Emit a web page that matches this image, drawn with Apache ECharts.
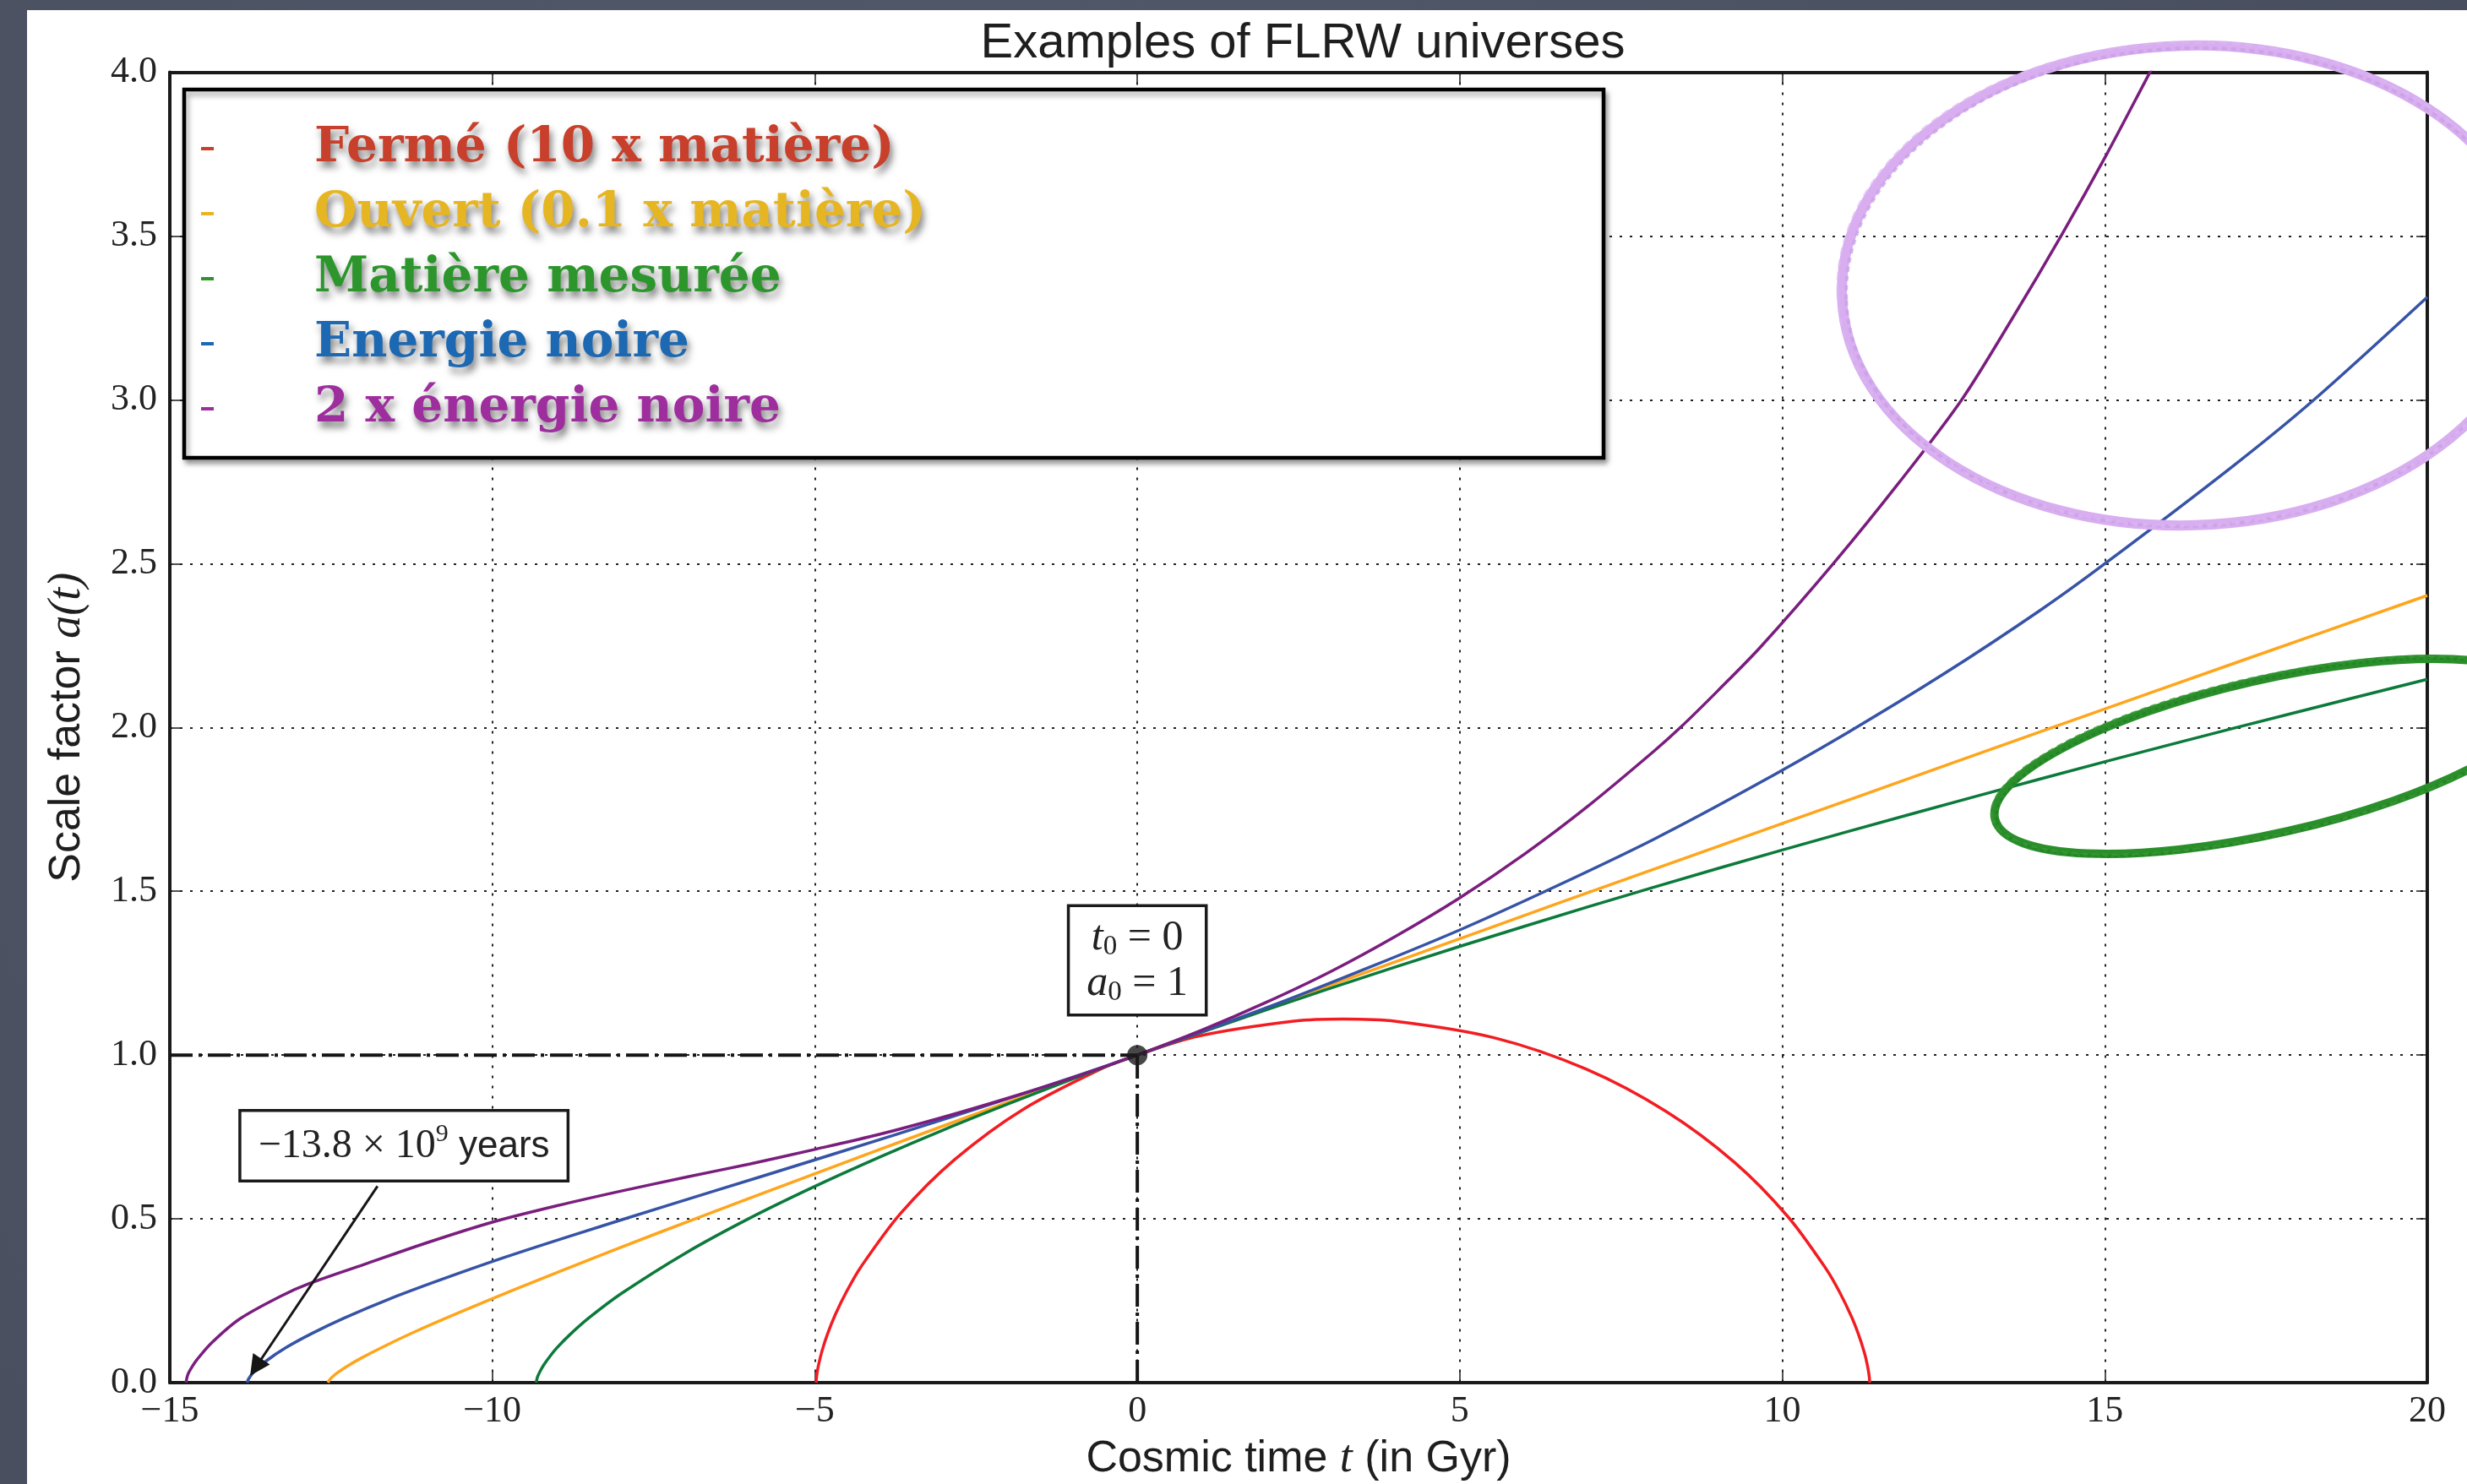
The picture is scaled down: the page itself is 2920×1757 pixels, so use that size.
<!DOCTYPE html>
<html><head><meta charset="utf-8">
<script src="https://cdn.jsdelivr.net/npm/echarts/dist/echarts.min.js"></script>
<style>
html,body{margin:0;padding:0;width:2920px;height:1757px;overflow:hidden;background:radial-gradient(circle at 40% 30%,#535a6b,#464c5b);}
#panel{position:absolute;left:32px;top:12px;width:2888px;height:1745px;background:#fff;}
#chart{width:2888px;height:1745px;}
</style></head><body><div id="panel"><div id="chart"></div></div>
<script>
// ---------- axes ----------
const X_MIN = -15, X_MAX = 20, X_STEP = 5;
const Y_MIN = 0, Y_MAX = 4, Y_STEP = 0.5;

// ---------- series names / colours ----------
const seriesNames = ['Fermé (10 x matière)', 'Ouvert (0.1 x matière)', 'Matière mesurée', 'Energie noire', '2 x énergie noire'];
const lineColors = ['#f21d22', '#ffa51c', '#0b7a3b', '#3653a6', '#7a1e7e'];
const legendColors = ['#c83f2b', '#e6b522', '#2c962c', '#1c68b2', '#9e2d9e'];

// ---------- data (cosmic time t in Gyr, scale factor a) ----------
const closedT = [-4.980,-4.968,-4.941,-4.888,-4.802,-4.677,-4.505,-4.283,-3.673,-2.832,-1.764,-0.496,0.0,0.929,2.453,3.188,4.010,5.531,6.948,8.206,9.262,10.090,10.687,10.881,11.069,11.178,11.272,11.317,11.346,11.356];
const closedA = [0,0.025,0.055,0.097,0.149,0.210,0.279,0.354,0.516,0.681,0.835,0.964,1.0,1.057,1.104,1.110,1.103,1.053,0.958,0.827,0.672,0.506,0.345,0.279,0.203,0.149,0.092,0.055,0.022,0];

const openT = [-12.547,-12.530,-12.488,-12.404,-12.259,-12.032,-11.696,-11.216,-10.550,-9.643,-8.136,-6.806,-5.146,-3.086,-1.621,0,0.961,2.620,4.462,6.507,8.773,11.288,14.074,17.166,20];
const openA = [0,0.007,0.016,0.030,0.049,0.075,0.109,0.154,0.211,0.285,0.403,0.504,0.627,0.778,0.884,1.0,1.069,1.187,1.317,1.462,1.621,1.797,1.992,2.207,2.403];

const matterT = [-9.32,-9.30,-9.25,-9.2,-9.1,-9.0,-8.8,-8.5,-8,-7,-6,-5,-4,-3,-2,-1,0,2,4,6,8,10,12,14,16,18,20];
const matterA = [0,0.017,0.038,0.055,0.082,0.106,0.146,0.198,0.272,0.396,0.503,0.599,0.688,0.772,0.851,0.927,1,1.138,1.269,1.393,1.512,1.626,1.736,1.843,1.947,2.048,2.147];

const lambdaT = [-13.8,-13.78,-13.7,-13.5,-13.2,-12.8,-12.3,-11.6,-10.8,-9.8,-8.8,-7.3,-5.8,-3.8,-1.8,0,2.2,3.6,5.0,6.5,8.0,9.5,11.0,12.5,14.0,15.0,17.0,18.24,20.0];
const lambdaA = [0,0.011,0.032,0.067,0.107,0.150,0.197,0.255,0.314,0.383,0.447,0.540,0.631,0.754,0.880,1,1.159,1.268,1.382,1.516,1.658,1.815,1.983,2.163,2.358,2.500,2.800,3.000,3.314];

const lambda2T = [-14.75,-14.72,-14.65,-14.58,-14.36,-13.92,-13.27,-12.83,-12.0,-11.0,-10.0,-9.0,-8.0,-7.0,-6.0,-5.0,-4.0,-3.0,-2.0,-1.0,0,1.0,2.0,3.0,4.0,5.0,6.0,7.0,8.0,8.42,9.0,9.66,10.79,11.82,12.78,13.57,14.32,15.03,15.70,15.97];
const lambda2A = [0,0.025,0.05,0.07,0.12,0.194,0.265,0.303,0.36,0.428,0.49,0.54,0.585,0.627,0.668,0.712,0.758,0.811,0.869,0.931,1.0,1.076,1.161,1.255,1.362,1.48,1.613,1.762,1.926,2.0,2.112,2.245,2.5,2.75,3.0,3.25,3.5,3.75,4.0,4.1];

// today (t0 = 0, a0 = 1)
const anchorPoint = [0, 1];

// ---------- annotation placement (data coords) ----------
const todayBoxPos = [0.0, 1.289];
const ageBoxPos = [-11.37, 0.723];
const arrowFrom = [-11.78, 0.60];
const arrowTo = [-13.667, 0.047];

// ---------- build ----------
const serif = "'Liberation Serif','DejaVu Serif',serif";
const sans = "'Liberation Sans',Arial,sans-serif";
const curves = [[closedT, closedA], [openT, openA], [matterT, matterA], [lambdaT, lambdaA], [lambda2T, lambda2A]];
const zip = (ts, as) => ts.map((t, i) => [t, as[i]]);
const minus = v => String(v).replace('-', '\u2212');

const curveSeries = curves.map((c, i) => ({
  type: 'line', name: seriesNames[i], data: zip(c[0], c[1]),
  showSymbol: false, symbol: 'none', smooth: 0.3, clip: true, z: 2,
  lineStyle: { color: lineColors[i], width: 3.5 }, itemStyle: { color: lineColors[i] }
}));

const dashDot = { color: '#151515', width: 4, type: [27, 7, 4, 7] };

const chart = echarts.init(document.getElementById('chart'));
chart.setOption({
  animation: false,
  title: {
    text: 'Examples of FLRW universes', left: 1505, top: 4, textAlign: 'center',
    textStyle: { fontFamily: sans, fontSize: 58, fontWeight: 'normal', color: '#1e1e1e', lineHeight: 62 }
  },
  grid: { left: 169, right: 47, top: 73.6, bottom: 120, containLabel: false, outerBoundsMode: 'none' },
  xAxis: [{
    type: 'value', min: X_MIN, max: X_MAX, interval: X_STEP, position: 'bottom',
    axisLine: { onZero: false, lineStyle: { color: '#1a1a1a', width: 4 } },
    axisTick: { inside: true, length: 13, lineStyle: { color: '#1a1a1a', width: 1.5 } },
    axisLabel: { formatter: minus, fontFamily: serif, fontSize: 44, color: '#222', margin: 12 },
    splitLine: { show: true, lineStyle: { color: '#222', width: 2, type: [3, 9] } },
    name: 'Cosmic time {i|t} (in Gyr)', nameLocation: 'middle', nameGap: 55,
    nameTextStyle: { fontFamily: sans, fontSize: 52, color: '#1e1e1e', lineHeight: 60,
      rich: { i: { fontFamily: serif, fontStyle: 'italic', fontSize: 54, color: '#1e1e1e', lineHeight: 60 } } }
  }, {
    type: 'value', min: X_MIN, max: X_MAX, interval: X_STEP, position: 'top',
    axisLine: { onZero: false, lineStyle: { color: '#1a1a1a', width: 4 } },
    axisTick: { inside: true, length: 13, lineStyle: { color: '#1a1a1a', width: 1.5 } },
    axisLabel: { show: false }, splitLine: { show: false }
  }],
  yAxis: [{
    type: 'value', min: Y_MIN, max: Y_MAX, interval: Y_STEP, position: 'left',
    axisLine: { show: true, onZero: false, lineStyle: { color: '#1a1a1a', width: 4 } },
    axisTick: { show: true, inside: true, length: 13, lineStyle: { color: '#1a1a1a', width: 1.5 } },
    axisLabel: { formatter: v => v.toFixed(1), fontFamily: serif, fontSize: 44, color: '#222', margin: 15 },
    splitLine: { show: true, lineStyle: { color: '#222', width: 2, type: [3, 9] } },
    name: 'Scale factor {i|a(t)}', nameLocation: 'middle', nameGap: 91,
    nameTextStyle: { fontFamily: sans, fontSize: 52, color: '#1e1e1e', lineHeight: 60,
      rich: { i: { fontFamily: serif, fontStyle: 'italic', fontSize: 54, color: '#1e1e1e', lineHeight: 60 } } }
  }, {
    type: 'value', min: Y_MIN, max: Y_MAX, interval: Y_STEP, position: 'right',
    axisLine: { show: true, onZero: false, lineStyle: { color: '#1a1a1a', width: 4 } },
    axisTick: { show: true, inside: true, length: 13, lineStyle: { color: '#1a1a1a', width: 1.5 } },
    axisLabel: { show: false }, splitLine: { show: false }
  }],
  legend: {
    orient: 'vertical', left: 206, top: 128, padding: 0, itemGap: 5,
    itemWidth: 15, itemHeight: 4, icon: 'rect', selectedMode: false, z: 10,
    textStyle: {
      fontFamily: "'DejaVu Serif',serif", fontWeight: 'bold', fontSize: 58, lineHeight: 50, padding: [0, 0, 22, 114],
      textShadowColor: 'rgba(0,0,0,0.5)', textShadowBlur: 9, textShadowOffsetX: 3, textShadowOffsetY: 7
    },
    data: seriesNames.map((n, i) => ({ name: n, textStyle: { color: legendColors[i] }, itemStyle: { color: legendColors[i] } }))
  },
  graphic: [
    { type: 'rect', z: 3, shape: { x: 186, y: 94, width: 1680, height: 436 },
      style: { fill: '#fff', stroke: '#000', lineWidth: 4.5, shadowBlur: 6, shadowColor: 'rgba(0,0,0,0.35)', shadowOffsetX: 3, shadowOffsetY: 5 } },
    { type: 'ellipse', z: 100, x: 2558, y: 326, rotation: 0.03, shape: { cx: 0, cy: 0, rx: 410, ry: 284 },
      style: { fill: 'none', stroke: '#d8aef0', lineWidth: 12 } },
    { type: 'ellipse', z: 100, x: 2560, y: 328, rotation: 0.036, shape: { cx: 0, cy: 0, rx: 407, ry: 283 },
      style: { fill: 'none', stroke: '#c99fe6', lineWidth: 4, lineDash: [6, 5], opacity: 0.75 } },
    { type: 'ellipse', z: 100, x: 2556, y: 324, rotation: 0.025, shape: { cx: 0, cy: 0, rx: 413, ry: 286 },
      style: { fill: 'none', stroke: '#dcb8f2', lineWidth: 3, lineDash: [9, 6], opacity: 0.6 } },
    { type: 'ellipse', z: 100, x: 2655, y: 883.5, rotation: 0.2234, shape: { cx: 0, cy: 0, rx: 334, ry: 91 },
      style: { fill: 'none', stroke: '#2a8f2a', lineWidth: 10 } },
    { type: 'ellipse', z: 100, x: 2656, y: 884.5, rotation: 0.228, shape: { cx: 0, cy: 0, rx: 333, ry: 92 },
      style: { fill: 'none', stroke: '#1f7f22', lineWidth: 3, lineDash: [4, 4], opacity: 0.7 } },
    { type: 'ellipse', z: 100, x: 2654, y: 882.5, rotation: 0.219, shape: { cx: 0, cy: 0, rx: 336, ry: 94 },
      style: { fill: 'none', stroke: '#3a9a36', lineWidth: 2.5, lineDash: [7, 5], opacity: 0.7 } }
  ],
  series: curveSeries.concat([
    { type: 'line', name: 'refH', data: [[X_MIN, anchorPoint[1]], anchorPoint], showSymbol: false, symbol: 'none', z: 3, lineStyle: dashDot },
    { type: 'line', name: 'refV', data: [[anchorPoint[0], Y_MIN], anchorPoint], showSymbol: false, symbol: 'none', z: 3, lineStyle: dashDot },
    {
      type: 'scatter', name: 'anchor', data: [anchorPoint], symbolSize: 24, z: 6,
      itemStyle: { color: '#1a1a1a' },
      markPoint: {
        silent: true, symbol: 'rect', symbolSize: 1, itemStyle: { color: 'rgba(0,0,0,0)' },
        data: [
          { coord: todayBoxPos, label: {
            show: true, position: 'inside', color: '#222',
            formatter: '{i|t}{s|0}{n| = 0}\n{i|a}{s|0}{n| = 1}',
            backgroundColor: '#fff', borderColor: '#1a1a1a', borderWidth: 3.5, padding: [10, 20, 8, 20],
            rich: {
              i: { fontFamily: serif, fontStyle: 'italic', fontSize: 50, lineHeight: 54, color: '#222' },
              s: { fontFamily: serif, fontSize: 33, lineHeight: 28, verticalAlign: 'bottom', color: '#222' },
              n: { fontFamily: serif, fontSize: 50, lineHeight: 54, color: '#222' }
            } } },
          { coord: ageBoxPos, label: {
            show: true, position: 'inside', color: '#222',
            formatter: '{n|\u221213.8 \u00d7 10}{p|9}{y| years}',
            backgroundColor: '#fff', borderColor: '#1a1a1a', borderWidth: 3.5, padding: [12, 20, 10, 20],
            rich: {
              n: { fontFamily: serif, fontSize: 48, lineHeight: 58, color: '#222' },
              p: { fontFamily: serif, fontSize: 30, lineHeight: 32, verticalAlign: 'top', color: '#222' },
              y: { fontFamily: sans, fontSize: 44, lineHeight: 58, color: '#222' }
            } } }
        ]
      },
      markLine: {
        silent: true, symbol: ['none', 'triangle'], symbolSize: 24,
        lineStyle: { color: '#151515', width: 3, type: 'solid' },
        itemStyle: { color: '#151515' },
        label: { show: false },
        data: [[{ coord: arrowFrom }, { coord: arrowTo }]]
      }
    }
  ])
});
</script></body></html>
